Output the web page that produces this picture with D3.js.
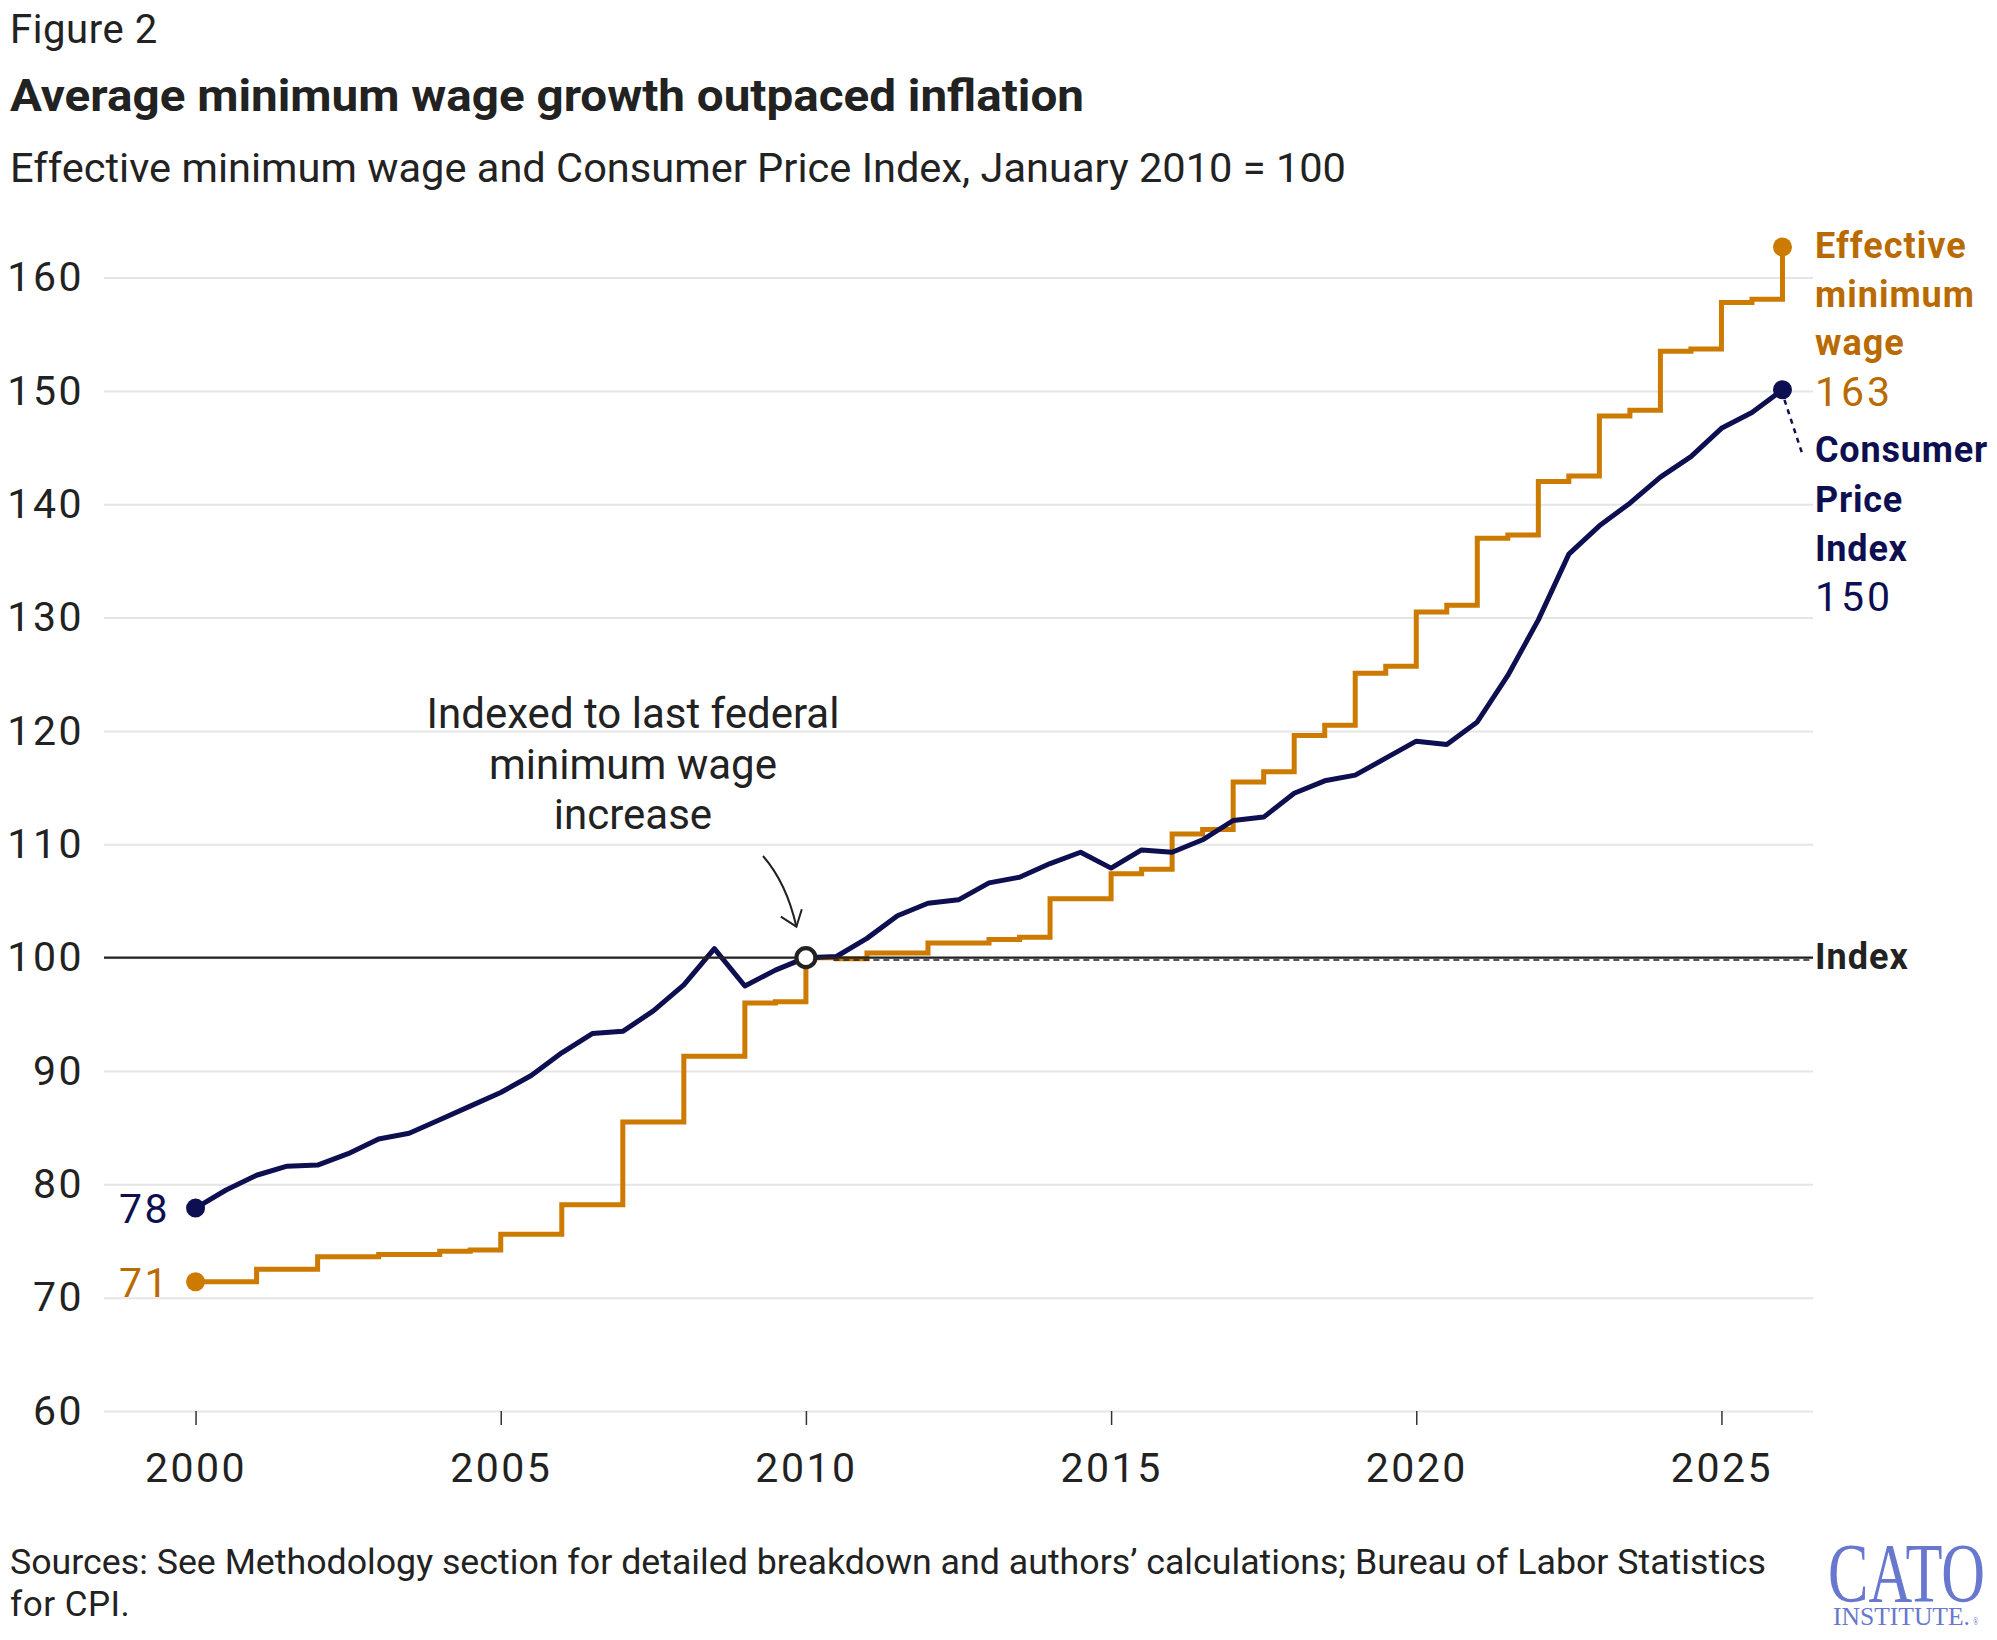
<!DOCTYPE html>
<html>
<head>
<meta charset="utf-8">
<script src="https://cdn.jsdelivr.net/npm/d3@7"></script>
<style>
  html, body { margin: 0; padding: 0; background: #fff; }
  svg { display: block; font-family: Roboto, "Noto Sans", sans-serif; }
</style>
</head>
<body>
<svg id="chart" width="1997" height="1640"></svg>
<script>
// ---- data (semiannual, January / July) ----
const periods = [2000, 2000.5, 2001, 2001.5, 2002, 2002.5, 2003, 2003.5, 2004, 2004.5,
  2005, 2005.5, 2006, 2006.5, 2007, 2007.5, 2008, 2008.5, 2009, 2009.5,
  2010, 2010.5, 2011, 2011.5, 2012, 2012.5, 2013, 2013.5, 2014, 2014.5,
  2015, 2015.5, 2016, 2016.5, 2017, 2017.5, 2018, 2018.5, 2019, 2019.5,
  2020, 2020.5, 2021, 2021.5, 2022, 2022.5, 2023, 2023.5, 2024, 2024.5,
  2025, 2025.5, 2026];
const minWage = [71.4, 71.4, 72.5, 72.5, 73.6, 73.6, 73.8, 73.8, 74.1, 74.2,
  75.6, 75.6, 78.2, 78.2, 85.5, 85.5, 91.3, 91.3, 96.0, 96.1,
  100.0, 99.9, 100.4, 100.4, 101.3, 101.3, 101.6, 101.8, 105.2, 105.2,
  107.4, 107.8, 110.9, 111.3, 115.5, 116.4, 119.6, 120.5, 125.1, 125.7,
  130.5, 131.1, 137.0, 137.3, 142.0, 142.5, 147.8, 148.3, 153.5, 153.7,
  157.8, 158.1, 162.7];
const cpi = [77.9, 79.5, 80.8, 81.6, 81.7, 82.7, 84.0, 84.5, 85.7, 86.9,
  88.1, 89.6, 91.6, 93.3, 93.5, 95.3, 97.6, 100.8, 97.5, 98.9,
  100.0, 100.1, 101.7, 103.7, 104.8, 105.1, 106.6, 107.1, 108.3, 109.3,
  107.9, 109.5, 109.3, 110.4, 112.1, 112.4, 114.5, 115.6, 116.1, 117.6,
  119.1, 118.8, 120.8, 124.9, 129.8, 135.6, 138.1, 140.1, 142.4, 144.2,
  146.7, 148.1, 150.1];
const xTicks = [2000, 2005, 2010, 2015, 2020, 2025];
const yTicks = [60, 70, 80, 90, 100, 110, 120, 130, 140, 150, 160];
const mwLabel = ["Effective", "minimum", "wage"];
const cpiLabel = ["Consumer", "Price", "Index"];
const noteLines = ["Indexed to last federal", "minimum wage", "increase"];

const ORANGE = "#cc7a00", ORANGE_TXT = "#b96a00", NAVY = "#0e0f50", INK = "#222";

const svg = d3.select("#chart");
const x = d3.scaleLinear().domain([1998.5, 2026.5]).range([104, 1813]);
const y = d3.scaleLinear().domain([60, 160]).range([1411, 277.6]);

// titles
svg.append("text").attr("x", 10).attr("y", 43).attr("font-size", 40).attr("letter-spacing", 0.6)
  .attr("fill", INK).text("Figure 2");
svg.append("text").attr("x", 10).attr("y", 111).attr("font-size", 45).attr("font-weight", 700).attr("fill", INK)
  .attr("textLength", 1074).attr("lengthAdjust", "spacingAndGlyphs")
  .text("Average minimum wage growth outpaced inflation");
svg.append("text").attr("x", 10).attr("y", 182).attr("font-size", 41).attr("fill", INK)
  .attr("textLength", 1336).attr("lengthAdjust", "spacingAndGlyphs")
  .text("Effective minimum wage and Consumer Price Index, January 2010 = 100");

// y axis + grid
const yAxis = svg.append("g").attr("transform", "translate(104,0)")
  .call(d3.axisLeft(y).tickValues(yTicks).tickSize(-(1813 - 104)).tickPadding(20).tickFormat(d3.format("d")));
yAxis.select(".domain").remove();
yAxis.selectAll(".tick line").attr("stroke", "#e5e5e5").attr("stroke-width", 2);
yAxis.selectAll(".tick text").attr("font-size", 41).attr("letter-spacing", 2.5).attr("fill", INK)
  .attr("font-family", "Roboto, sans-serif");

// x axis
const xAxis = svg.append("g").attr("transform", "translate(0,1411)")
  .call(d3.axisBottom(x).tickValues(xTicks).tickSize(14).tickPadding(28).tickFormat(d3.format("d")));
xAxis.select(".domain").remove();
xAxis.selectAll(".tick line").attr("stroke", "#333").attr("stroke-width", 1.5);
xAxis.selectAll(".tick text").attr("font-size", 41).attr("letter-spacing", 2.5).attr("fill", INK)
  .attr("font-family", "Roboto, sans-serif");

// lines
const mwData = periods.map((p, i) => [p, minWage[i]]);
const cpiData = periods.map((p, i) => [p, cpi[i]]);
svg.append("path").datum(mwData)
  .attr("d", d3.line().x(d => x(d[0])).y(d => y(d[1])).curve(d3.curveStepAfter))
  .attr("fill", "none").attr("stroke", ORANGE).attr("stroke-width", 5);
svg.append("path").datum(cpiData)
  .attr("d", d3.line().x(d => x(d[0])).y(d => y(d[1])))
  .attr("fill", "none").attr("stroke", NAVY).attr("stroke-width", 5).attr("stroke-linejoin", "round");

// index line
svg.append("line").attr("x1", x(2010.45)).attr("x2", 1813).attr("y1", y(100) + 2.4).attr("y2", y(100) + 2.4)
  .attr("stroke", INK).attr("stroke-width", 1.6).attr("stroke-dasharray", "6,4");
svg.append("line").attr("x1", 104).attr("x2", 1813).attr("y1", y(100)).attr("y2", y(100))
  .attr("stroke", INK).attr("stroke-width", 2.4);
svg.append("text").attr("x", 1815).attr("y", y(100) + 11).attr("font-size", 36).attr("font-weight", 700)
  .attr("letter-spacing", 1).attr("fill", INK).text("Index");

// base circle
svg.append("circle").attr("cx", x(2010)).attr("cy", y(100)).attr("r", 9.5)
  .attr("fill", "#fff").attr("stroke", INK).attr("stroke-width", 4.2);

// end dots
const last = periods.length - 1;
[[periods[0], minWage[0], ORANGE], [periods[last], minWage[last], ORANGE],
 [periods[0], cpi[0], NAVY], [periods[last], cpi[last], NAVY]].forEach(d => {
  svg.append("circle").attr("cx", x(d[0])).attr("cy", y(d[1])).attr("r", 9.5).attr("fill", d[2]);
});

// start value labels
svg.append("text").attr("x", 170).attr("y", y(cpi[0]) + 15).attr("text-anchor", "end")
  .attr("font-size", 41).attr("letter-spacing", 2.5).attr("fill", NAVY).text(Math.round(cpi[0]));
svg.append("text").attr("x", 170).attr("y", y(minWage[0]) + 15).attr("text-anchor", "end")
  .attr("font-size", 41).attr("letter-spacing", 2.5).attr("fill", ORANGE_TXT).text(Math.round(minWage[0]));

// right labels
mwLabel.forEach((t, i) => {
  svg.append("text").attr("x", 1815).attr("y", 258 + i * 48.5).attr("font-size", 36).attr("font-weight", 700)
    .attr("letter-spacing", 1).attr("fill", ORANGE_TXT).text(t);
});
svg.append("text").attr("x", 1815).attr("y", 406).attr("font-size", 41).attr("letter-spacing", 3)
  .attr("fill", ORANGE_TXT).text(Math.round(minWage[last]));
cpiLabel.forEach((t, i) => {
  svg.append("text").attr("x", 1815).attr("y", 462 + i * 49.5).attr("font-size", 36).attr("font-weight", 700)
    .attr("letter-spacing", 0.8).attr("fill", NAVY).text(t);
});
svg.append("text").attr("x", 1815).attr("y", 611).attr("font-size", 41).attr("letter-spacing", 3)
  .attr("fill", NAVY).text(Math.round(cpi[last]));
svg.append("line").attr("x1", x(periods[last]) + 2).attr("y1", y(cpi[last]) + 10)
  .attr("x2", 1802).attr("y2", 453).attr("stroke", NAVY).attr("stroke-width", 2.5).attr("stroke-dasharray", "5,5");

// annotation
noteLines.forEach((t, i) => {
  svg.append("text").attr("x", 633).attr("y", 728 + i * 50.5).attr("text-anchor", "middle")
    .attr("font-size", 42).attr("fill", INK).text(t);
});
svg.append("path").attr("d", "M763,856 Q786.5,883 796.4,926.7").attr("fill", "none")
  .attr("stroke", INK).attr("stroke-width", 2);
svg.append("path").attr("d", "M780.8,916.7 L796.4,926.7 L801.8,909.3").attr("fill", "none")
  .attr("stroke", INK).attr("stroke-width", 2);

// sources
svg.append("text").attr("x", 10).attr("y", 1574).attr("font-size", 35).attr("fill", INK)
  .attr("textLength", 1756).attr("lengthAdjust", "spacingAndGlyphs")
  .text("Sources: See Methodology section for detailed breakdown and authors’ calculations; Bureau of Labor Statistics");
svg.append("text").attr("x", 10).attr("y", 1616).attr("font-size", 35).attr("letter-spacing", 0.5)
  .attr("fill", INK).text("for CPI.");

// logo (one text element, vertically stretched)
const LOGO = "#6878cf";
const logo = svg.append("text").attr("transform", "translate(1828,1602) scale(1,1.5)")
  .attr("font-family", "'Liberation Serif', 'DejaVu Serif', serif").attr("fill", LOGO);
logo.append("tspan").attr("x", 0).attr("y", 0).attr("font-size", 56)
  .attr("textLength", 157).attr("lengthAdjust", "spacingAndGlyphs").text("CATO");
logo.append("tspan").attr("x", 5).attr("y", 15.5).attr("font-size", 17)
  .attr("textLength", 137).attr("lengthAdjust", "spacingAndGlyphs").text("INSTITUTE.");
logo.append("tspan").attr("x", 145).attr("y", 15.5).attr("font-size", 7).text("®");
</script>
</body>
</html>
